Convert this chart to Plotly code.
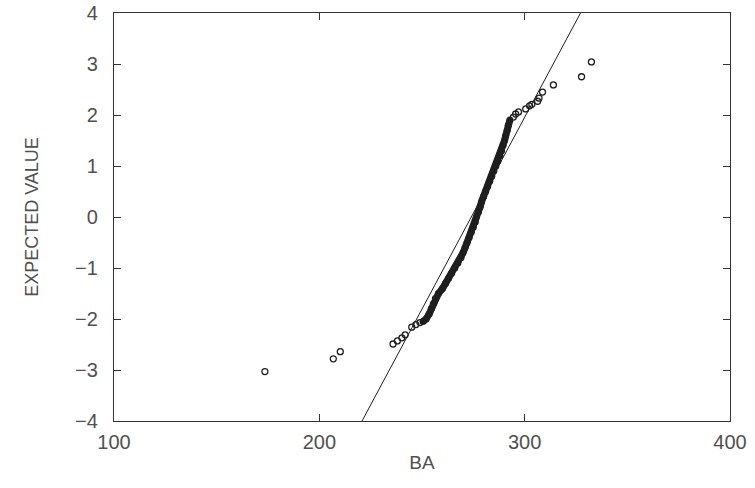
import plotly.graph_objects as go

tail_low_x = [173.5, 206.8, 210.2, 235.9, 238.0, 240.2, 241.8, 245.0, 247.0, 249.0]
tail_low_y = [-3.03, -2.78, -2.64, -2.49, -2.43, -2.37, -2.31, -2.16, -2.11, -2.07]

band_y = [-2.05, -2.0, -1.9, -1.8, -1.7, -1.6, -1.5, -1.4, -1.3, -1.2, -1.1, -1.0,
          -0.9, -0.8, -0.7, -0.6, -0.5, -0.4, -0.3, -0.2, -0.1, 0.0, 0.1, 0.2,
          0.3, 0.4, 0.5, 0.6, 0.7, 0.8, 0.9, 1.0, 1.1, 1.2, 1.3, 1.4, 1.5, 1.6,
          1.7, 1.8, 1.9]
band_x = [250.5, 252.0, 253.5, 254.5, 255.5, 256.5, 258.0, 260.0, 261.5, 263.0, 264.5, 266.0,
          267.5, 269.0, 270.0, 271.0, 272.0, 273.0, 274.0, 275.0, 276.0, 276.5, 277.5, 278.3,
          279.0, 280.0, 281.0, 282.0, 283.0, 284.0, 285.0, 286.0, 287.0, 288.0, 288.8, 289.5, 290.2, 290.8,
          291.5, 292.0, 292.8]

tail_high_x = [294.5, 295.6, 297.0, 300.5, 302.4, 303.5, 306.3, 307.0, 308.7, 314.0, 327.7, 332.5]
tail_high_y = [1.96, 2.02, 2.06, 2.12, 2.18, 2.21, 2.27, 2.33, 2.45, 2.59, 2.75, 3.04]

# Reference (fitted normal) line
fit_x = [220.8, 327.2]
fit_y = [-4.0, 4.0]

x_ticks = [100, 200, 300, 400]
y_ticks = [-4, -3, -2, -1, 0, 1, 2, 3, 4]

INK = "#1e1e1e"
TXT = "#505050"
FONT = "Liberation Sans, Arial, sans-serif"

fig = go.Figure()
fig.add_trace(go.Scatter(x=fit_x, y=fit_y, mode="lines",
                         line=dict(color=INK, width=1), showlegend=False))
# dense central band of overlapping markers
fig.add_trace(go.Scatter(x=band_x, y=band_y, mode="lines+markers",
                         line=dict(color=INK, width=7),
                         marker=dict(symbol="circle", size=7, color=INK),
                         showlegend=False))
fig.add_trace(go.Scatter(x=tail_low_x + tail_high_x, y=tail_low_y + tail_high_y, mode="markers",
                         marker=dict(symbol="circle-open", size=6, color=INK,
                                     line=dict(width=1.3, color=INK)),
                         showlegend=False))

axis_common = dict(showgrid=False, zeroline=False, showline=True, linecolor="#333333",
                   linewidth=1.2, mirror="ticks", ticks="inside", ticklen=7,
                   tickcolor="#333333", tickwidth=1.2, automargin=False,
                   tickfont=dict(family=FONT, size=20, color=TXT))

fig.update_layout(
    width=755, height=488,
    margin=dict(l=114, r=25, t=13, b=67),
    paper_bgcolor="white", plot_bgcolor="white",
    xaxis=dict(range=[100, 400], tickvals=x_ticks, ticklabelstandoff=3, **axis_common,
               title=dict(text="BA", standoff=3,
                          font=dict(family=FONT, size=19, color=TXT))),
    yaxis=dict(range=[-4, 4], tickvals=y_ticks, ticklabelstandoff=11, **axis_common,
               title=dict(text="EXPECTED VALUE", standoff=31,
                          font=dict(family=FONT, size=18, color=TXT))),
)

# remove the browser's default body margin so the figure sits at the page origin
fig.write_html("out.html", config={"displayModeBar": False},
               post_script="document.body.style.margin='0';")
